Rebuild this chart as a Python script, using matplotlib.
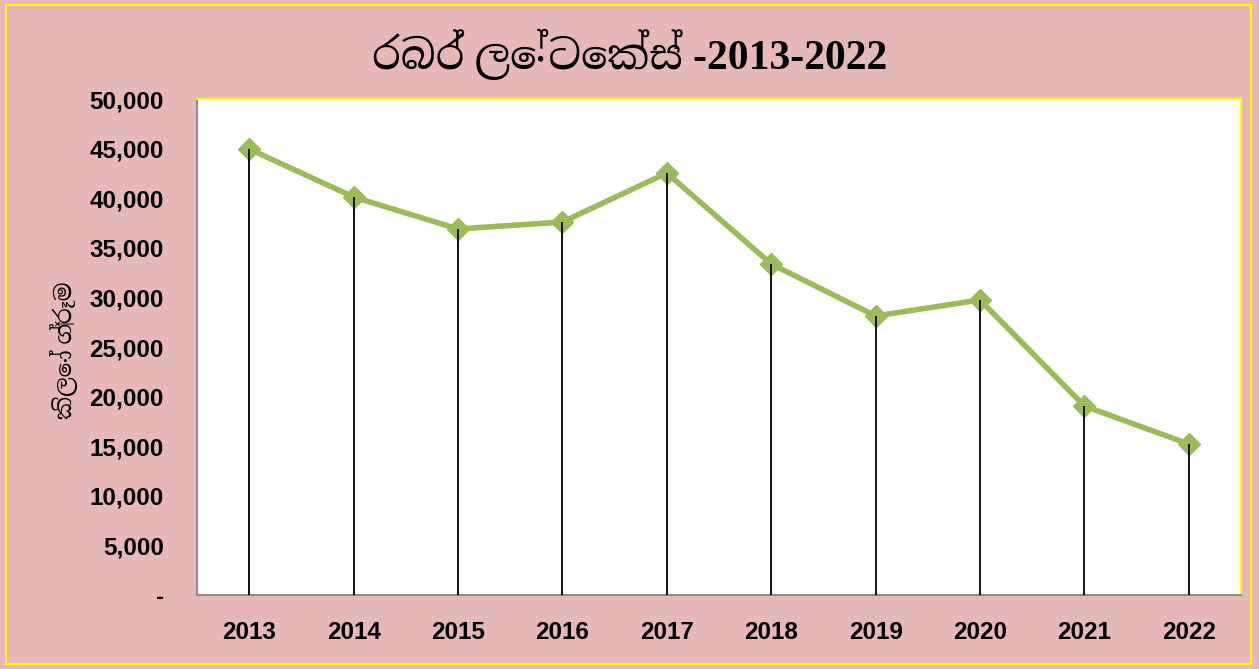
import matplotlib
matplotlib.use("Agg")
import matplotlib.pyplot as plt
from matplotlib.patches import Rectangle
from matplotlib.ticker import FuncFormatter

# data
years = ["2013", "2014", "2015", "2016", "2017", "2018", "2019", "2020", "2021", "2022"]
latex_kg = [44960, 40120, 36900, 37600, 42540, 33370, 28130, 29740, 19050, 15220]

title_text = "රබර් ලේටෙක්ස් -2013-2022"
ylabel_text = "කිලෝ ග්‍රෑම"

bg_pink = "#E6B8B7"
line_green = "#9BBB59"
# latin digits from the serif font, sinhala letters fall through to Noto
sinhala_fonts = ["Liberation Serif", "Noto Serif Sinhala", "Noto Sans Sinhala", "DejaVu Serif"]

fig = plt.figure(figsize=(12.59, 6.69), dpi=100)
fig.patch.set_facecolor(bg_pink)
ax = fig.add_axes([0.1565, 0.1106, 0.8292, 0.7414])
ax.set_facecolor("white")

x = list(range(len(years)))
ax.plot(x, latex_kg, color=line_green, linewidth=4, marker="D", markersize=11,
        markerfacecolor=line_green, markeredgecolor=line_green, zorder=2)
# drop lines from each point down to the axis
ax.vlines(x, 0, latex_kg, colors="black", linewidth=1.3, zorder=3)

ax.set_xlim(-0.5, len(years) - 0.5)
ax.set_ylim(0, 50000)
ax.set_yticks(range(0, 50001, 5000))
ax.yaxis.set_major_formatter(FuncFormatter(lambda v, p: "-" if v == 0 else f"{int(v):,}"))
ax.set_xticks(x)
ax.set_xticklabels(years)
ax.tick_params(length=0, labelsize=17.5)
ax.tick_params(axis="x", pad=19)
ax.tick_params(axis="y", pad=24)
for lab in ax.get_xticklabels() + ax.get_yticklabels():
    lab.set_fontweight("bold")
    lab.set_family("Liberation Sans")

ax.spines["left"].set_color("#8c8c8c")
ax.spines["bottom"].set_color("#8c8c8c")
ax.spines["top"].set_color("#ffff00")
ax.spines["right"].set_color("#ffff00")
for s in ax.spines.values():
    s.set_linewidth(1.5)

fig.text(0.5, 0.918, title_text, ha="center", va="center", fontsize=30,
         fontweight="bold", family=sinhala_fonts)
fig.text(0.051, 0.477, ylabel_text, ha="center", va="center", rotation=90,
         fontsize=16.5, fontweight="bold", family=sinhala_fonts)

# yellow outer border
fig.patches.append(Rectangle((0.005, 0.008), 0.989, 0.984, transform=fig.transFigure,
                             fill=False, edgecolor="#ffff00", linewidth=1.5))

fig.savefig("out.png", dpi=100, facecolor=fig.get_facecolor())
